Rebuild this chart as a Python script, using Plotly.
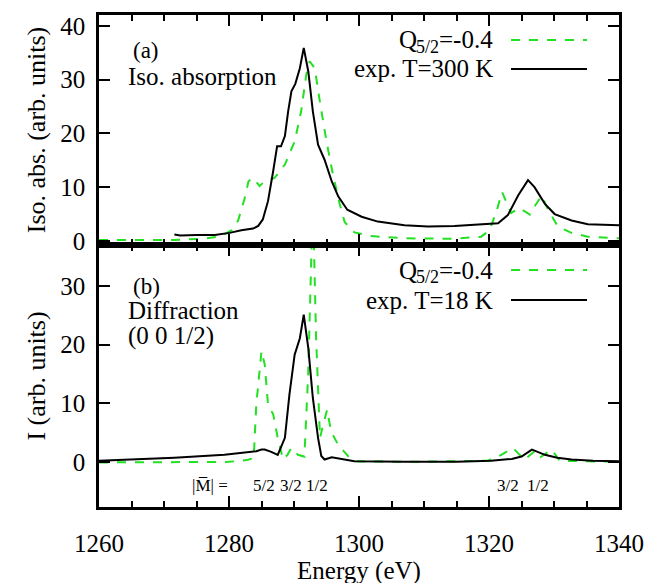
import plotly.graph_objects as go

# ---------------- data ----------------
# (a) isotropic absorption, experiment T=300 K
abs_exp_E = [1271.6, 1272.5, 1275.0, 1277.8, 1280.1, 1281.9, 1283.7, 1284.5, 1285.2, 1286.0,
             1286.8, 1287.4, 1288.0, 1288.6, 1289.1, 1289.6, 1290.2, 1290.9, 1291.5, 1292.2,
             1292.9, 1293.7, 1294.7, 1295.8, 1296.8, 1298.2, 1300.4, 1302.9, 1307.0, 1310.6,
             1314.7, 1318.3, 1321.4, 1322.9, 1324.5, 1326.0, 1327.0, 1328.6, 1330.1, 1332.7,
             1335.2, 1340.0]
abs_exp_I = [1.2, 1.0, 1.1, 1.1, 1.5, 2.0, 2.3, 2.8, 4.0, 7.4,
             13.0, 17.6, 17.6, 19.5, 24.1, 27.8, 29.2, 32.1, 35.9, 31.5,
             24.1, 17.9, 15.1, 11.1, 8.3, 5.8, 4.5, 3.6, 2.9, 2.7,
             2.8, 3.0, 3.3, 4.8, 8.5, 11.3, 10.0, 6.9, 5.0, 3.8,
             3.1, 2.9]
# (a) calculation Q_5/2 = -0.4
abs_cal_E = [1260.0, 1265.0, 1271.6, 1276.0, 1278.8, 1280.4, 1281.4, 1282.4, 1283.0, 1283.7,
             1284.7, 1285.5, 1287.0, 1288.6, 1290.1, 1291.1, 1291.9, 1292.4, 1293.2, 1293.9,
             1295.0, 1296.0, 1297.0, 1297.8, 1299.3, 1301.9, 1307.0, 1314.7, 1318.8, 1320.1,
             1321.2, 1322.0, 1322.7, 1323.4, 1324.7, 1326.3, 1327.0, 1328.1, 1329.1, 1330.6,
             1332.7, 1335.2, 1340.0]
abs_cal_I = [0.2, 0.2, 0.2, 0.4, 0.9, 2.0, 3.8, 7.9, 11.1, 11.7,
             10.2, 11.1, 11.7, 14.2, 18.5, 24.1, 31.0, 33.4, 32.1, 26.5,
             18.5, 12.3, 7.0, 3.5, 1.6, 0.9, 0.5, 0.4, 0.8, 2.0,
             5.7, 9.1, 7.0, 5.2, 6.1, 4.9, 6.4, 8.4, 5.8, 2.7,
             1.5, 0.8, 0.5]

# (b) diffraction (0 0 1/2), experiment T=18 K
dif_exp_E = [1260.0, 1265.0, 1271.6, 1279.3, 1284.2, 1285.0, 1285.5, 1286.5, 1287.5, 1288.6,
             1289.3, 1290.1, 1290.9, 1291.5, 1292.2, 1292.9, 1293.7, 1294.2, 1294.7, 1295.8,
             1296.8, 1298.3, 1299.3, 1307.0, 1315.0, 1320.3, 1323.5, 1325.0, 1326.0, 1326.6,
             1327.3, 1328.6, 1330.5, 1332.7, 1336.0, 1340.0]
dif_exp_I = [0.2, 0.4, 0.7, 1.2, 1.8, 2.1, 2.1, 1.7, 1.2, 4.1,
             11.5, 18.3, 21.1, 25.1, 19.4, 10.9, 4.1, 1.0, 0.4, 0.8,
             0.6, 0.2, 0.1, 0.0, 0.0, 0.2, 0.5, 0.9, 1.7, 2.1,
             1.8, 1.2, 0.7, 0.4, 0.2, 0.1]
# (b) calculation Q_5/2 = -0.4
dif_cal_E = [1260.0, 1270.0, 1280.0, 1282.7, 1283.8, 1284.2, 1285.0, 1285.5, 1286.0, 1286.8,
             1287.5, 1288.3, 1289.0, 1289.6, 1290.6, 1291.6, 1292.2, 1292.7, 1293.0, 1293.4,
             1294.0, 1294.5, 1295.1, 1295.7, 1296.8, 1298.3, 1299.3, 1307.0, 1319.8, 1321.9,
             1323.7, 1324.7, 1325.5, 1327.0, 1327.8, 1329.6, 1330.9, 1335.0, 1340.0]
dif_cal_I = [-0.1, -0.1, 0.0, 0.3, 0.6, 9.8, 18.9, 16.6, 9.8, 8.1,
             4.1, 0.4, 1.2, 2.4, 1.2, 0.9, 15.5, 36.5, 40.0, 21.1,
             4.1, 6.4, 8.9, 5.2, 2.9, 1.0, 0.1, 0.0, 0.2, 1.2,
             2.4, 1.2, 0.4, 1.8, 0.7, 2.1, 0.2, 0.1, 0.0]

x_ticks = [1260, 1280, 1300, 1320, 1340]
y_ticks_a = [0, 10, 20, 30, 40]
y_ticks_b = [0, 10, 20, 30]

# |M| transition labels (energy position, label)
m_label_E = [1285.4, 1289.6, 1293.6, 1322.9, 1327.5]
m_label_txt = ["5/2", "3/2", "1/2", "3/2", "1/2"]

GREEN = "#22e022"
FONT = "Liberation Serif"
FS = 25

fig = go.Figure()
fig.add_trace(go.Scatter(x=abs_cal_E, y=abs_cal_I, mode="lines", xaxis="x2", yaxis="y2",
                         line=dict(color=GREEN, width=2, dash="dash"), showlegend=False))
fig.add_trace(go.Scatter(x=abs_exp_E, y=abs_exp_I, mode="lines", xaxis="x2", yaxis="y2",
                         line=dict(color="black", width=2), showlegend=False))
fig.add_trace(go.Scatter(x=dif_cal_E, y=dif_cal_I, mode="lines", xaxis="x", yaxis="y",
                         line=dict(color=GREEN, width=2, dash="dash"), showlegend=False))
fig.add_trace(go.Scatter(x=dif_exp_E, y=dif_exp_I, mode="lines", xaxis="x", yaxis="y",
                         line=dict(color="black", width=2), showlegend=False))

split = 262 / 492

common_x = dict(range=[1260, 1340], tickvals=x_ticks, ticks="inside", ticklen=11, tickwidth=1.5,
                tickcolor="black", showline=True, linewidth=2.5, linecolor="black", mirror="ticks",
                showgrid=False, zeroline=False, automargin=False,
                tickfont=dict(family=FONT, size=FS, color="black"),
                minor=dict(dtick=5, ticks="inside", ticklen=6, tickwidth=1.5, tickcolor="black",
                           showgrid=False))
common_y = dict(ticks="inside", ticklen=11, tickwidth=1.5, tickcolor="black", showline=True,
                linewidth=2.5, linecolor="black", mirror="ticks", showgrid=False, zeroline=False,
                automargin=False, tickfont=dict(family=FONT, size=FS, color="black"),
                ticklabelstandoff=6)

fig.update_layout(
    width=667, height=583,
    margin=dict(l=91, r=56, t=7, b=84),
    paper_bgcolor="white", plot_bgcolor="white",
    font=dict(family=FONT, size=FS, color="black"),
    xaxis=dict(**common_x, anchor="y", domain=[0, 1], ticklabelstandoff=12,
               title=dict(text="Energy (eV)", standoff=4,
                          font=dict(family=FONT, size=FS, color="black"))),
    xaxis2=dict(**common_x, anchor="y2", domain=[0, 1], matches="x", showticklabels=False),
    yaxis=dict(**common_y, domain=[0, split], range=[-7.7, 37], tickvals=y_ticks_b,
               title=dict(text="I (arb. units)", standoff=8,
                          font=dict(family=FONT, size=26, color="black"))),
    yaxis2=dict(**common_y, domain=[split, 1], range=[-0.75, 42], tickvals=y_ticks_a,
                title=dict(text="Iso. abs. (arb. units)", standoff=8,
                           font=dict(family=FONT, size=26, color="black"))),
)

def px_x(p):
    return (p - 91) / 520

def px_y(p):
    return 1 - (p - 7) / 492

def note(text, xp, yp, size, anchor="left"):
    fig.add_annotation(text=text, x=px_x(xp), y=px_y(yp), xref="paper", yref="paper",
                       xanchor=anchor, yanchor="middle", showarrow=False,
                       font=dict(family=FONT, size=size, color="black"))

# panel labels
for t, xp, yp in [("(a)", 123, 43), ("Iso. absorption", 118, 68),
                  ("(b)", 123, 278), ("Diffraction", 118, 302), ("(0 0 1/2)", 118, 328)]:
    note(t, xp, yp, 23 if t in ("(a)", "(b)") else FS)

# legend keys (text right-aligned, sample line to the right); subscript built from pieces
legend_rows = [
    ("Q", "5/2", "=-0.4", 32, GREEN, "dash"),
    ("exp. T=300 K", "", "", 61, "black", "solid"),
    ("Q", "5/2", "=-0.4", 262, GREEN, "dash"),
    ("exp. T=18 K", "", "", 292, "black", "solid"),
]
for main, sub, tail, yp, col, dash in legend_rows:
    if sub:
        note(tail, 487, yp, FS, "right")
        note(sub, 433, yp + 7, 18, "right")
        note(main, 411, yp, FS, "right")
    else:
        note(main, 487, yp, FS, "right")
    fig.add_shape(type="line", xref="paper", yref="paper",
                  x0=px_x(503), x1=px_x(579), y0=px_y(yp), y1=px_y(yp),
                  line=dict(color=col, width=2, dash=dash))

# |M| labels
fig.add_annotation(text="|M\u0305| =", x=1277.0, y=-4.1, xref="x", yref="y",
                   xanchor="center", yanchor="middle", showarrow=False,
                   font=dict(family=FONT, size=17, color="black"))
for e, t in zip(m_label_E, m_label_txt):
    fig.add_annotation(text=t, x=e, y=-4.1, xref="x", yref="y", xanchor="center",
                       yanchor="middle", showarrow=False,
                       font=dict(family=FONT, size=17, color="black"))

fig.write_html("out.html")
